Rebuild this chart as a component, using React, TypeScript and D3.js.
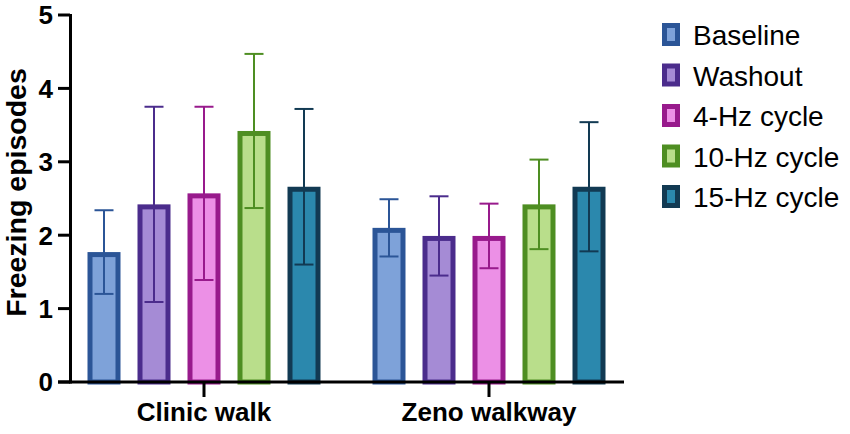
import React from "react";
import * as d3 from "d3";

const groups = ["Clinic walk", "Zeno walkway"];
const seriesNames = ["Baseline", "Washout", "4-Hz cycle", "10-Hz cycle", "15-Hz cycle"];
const strokeColors = ["#2b5597", "#4b2c8c", "#981a8c", "#4e8e22", "#123a53"];
const fillColors = ["#7ea2d9", "#a58bd5", "#ec90e6", "#b9de8b", "#2b88ad"];
// means per series: [clinic, zeno]
const means = [
  [1.77, 2.1],
  [2.42, 1.99],
  [2.57, 1.99],
  [3.42, 2.42],
  [2.66, 2.66],
];
const errors = [
  [0.57, 0.39],
  [1.33, 0.54],
  [1.18, 0.44],
  [1.05, 0.61],
  [1.06, 0.88],
];
const yTicks = [0, 1, 2, 3, 4, 5];

export default function App() {
  const W = 850, H = 434;
  const y = d3.scaleLinear().domain([0, 5]).range([382, 15]);
  const centers = [204, 489];
  const pitch = 50;
  const bw = 33;
  const sw = 5;
  const font = "Arial, 'Liberation Sans', sans-serif";

  return (
    <svg width={W} height={H} style={{ position: "absolute", left: 0, top: 0 }}>
      <rect width={W} height={H} fill="#fff" />
      {groups.map((g, gi) =>
        seriesNames.map((s, si) => {
          const cx = centers[gi] + (si - 2) * pitch;
          const v = means[si][gi];
          const top = y(v);
          const e = errors[si][gi];
          return (
            <g key={g + s}>
              <rect
                x={cx - bw / 2 + sw / 2}
                y={top + sw / 2}
                width={bw - sw}
                height={y(0) - top - sw / 2}
                fill={fillColors[si]}
                stroke={strokeColors[si]}
                strokeWidth={sw}
              />
              <line x1={cx} x2={cx} y1={y(v + e)} y2={y(v - e)} stroke={strokeColors[si]} strokeWidth={2} />
              <line x1={cx - 9.5} x2={cx + 9.5} y1={y(v + e)} y2={y(v + e)} stroke={strokeColors[si]} strokeWidth={2} />
              <line x1={cx - 9.5} x2={cx + 9.5} y1={y(v - e)} y2={y(v - e)} stroke={strokeColors[si]} strokeWidth={2} />
            </g>
          );
        })
      )}
      <line x1={70.5} x2={70.5} y1={y(5) - 1} y2={y(0) + 1.5} stroke="#000" strokeWidth={3} />
      {yTicks.map((t) => (
        <g key={t}>
          <line x1={58} x2={70} y1={y(t)} y2={y(t)} stroke="#000" strokeWidth={3} />
          <text x={53} y={y(t)} dy="0.36em" textAnchor="end" fontFamily={font} fontWeight="bold" fontSize={26}>
            {t}
          </text>
        </g>
      ))}
      <line x1={58} x2={624} y1={y(0)} y2={y(0)} stroke="#000" strokeWidth={3} />
      {groups.map((g, gi) => (
        <g key={g}>
          <line x1={centers[gi]} x2={centers[gi]} y1={y(0)} y2={397} stroke="#000" strokeWidth={3} />
          <text x={centers[gi]} y={421} textAnchor="middle" fontFamily={font} fontWeight="bold" fontSize={26}>
            {g}
          </text>
        </g>
      ))}
      <text
        transform={`translate(26, 192.5) rotate(-90)`}
        textAnchor="middle"
        fontFamily={font}
        fontWeight="bold"
        fontSize={28.5}
      >
        Freezing episodes
      </text>
      {seriesNames.map((s, si) => {
        const top = 23 + si * 40.5;
        return (
          <g key={s}>
            <rect x={664.5} y={top + 2.5} width={13} height={18} fill={fillColors[si]} stroke={strokeColors[si]} strokeWidth={5} />
            <text x={693} y={top + 22} fontFamily={font} fontSize={28}>
              {s}
            </text>
          </g>
        );
      })}
    </svg>
  );
}
